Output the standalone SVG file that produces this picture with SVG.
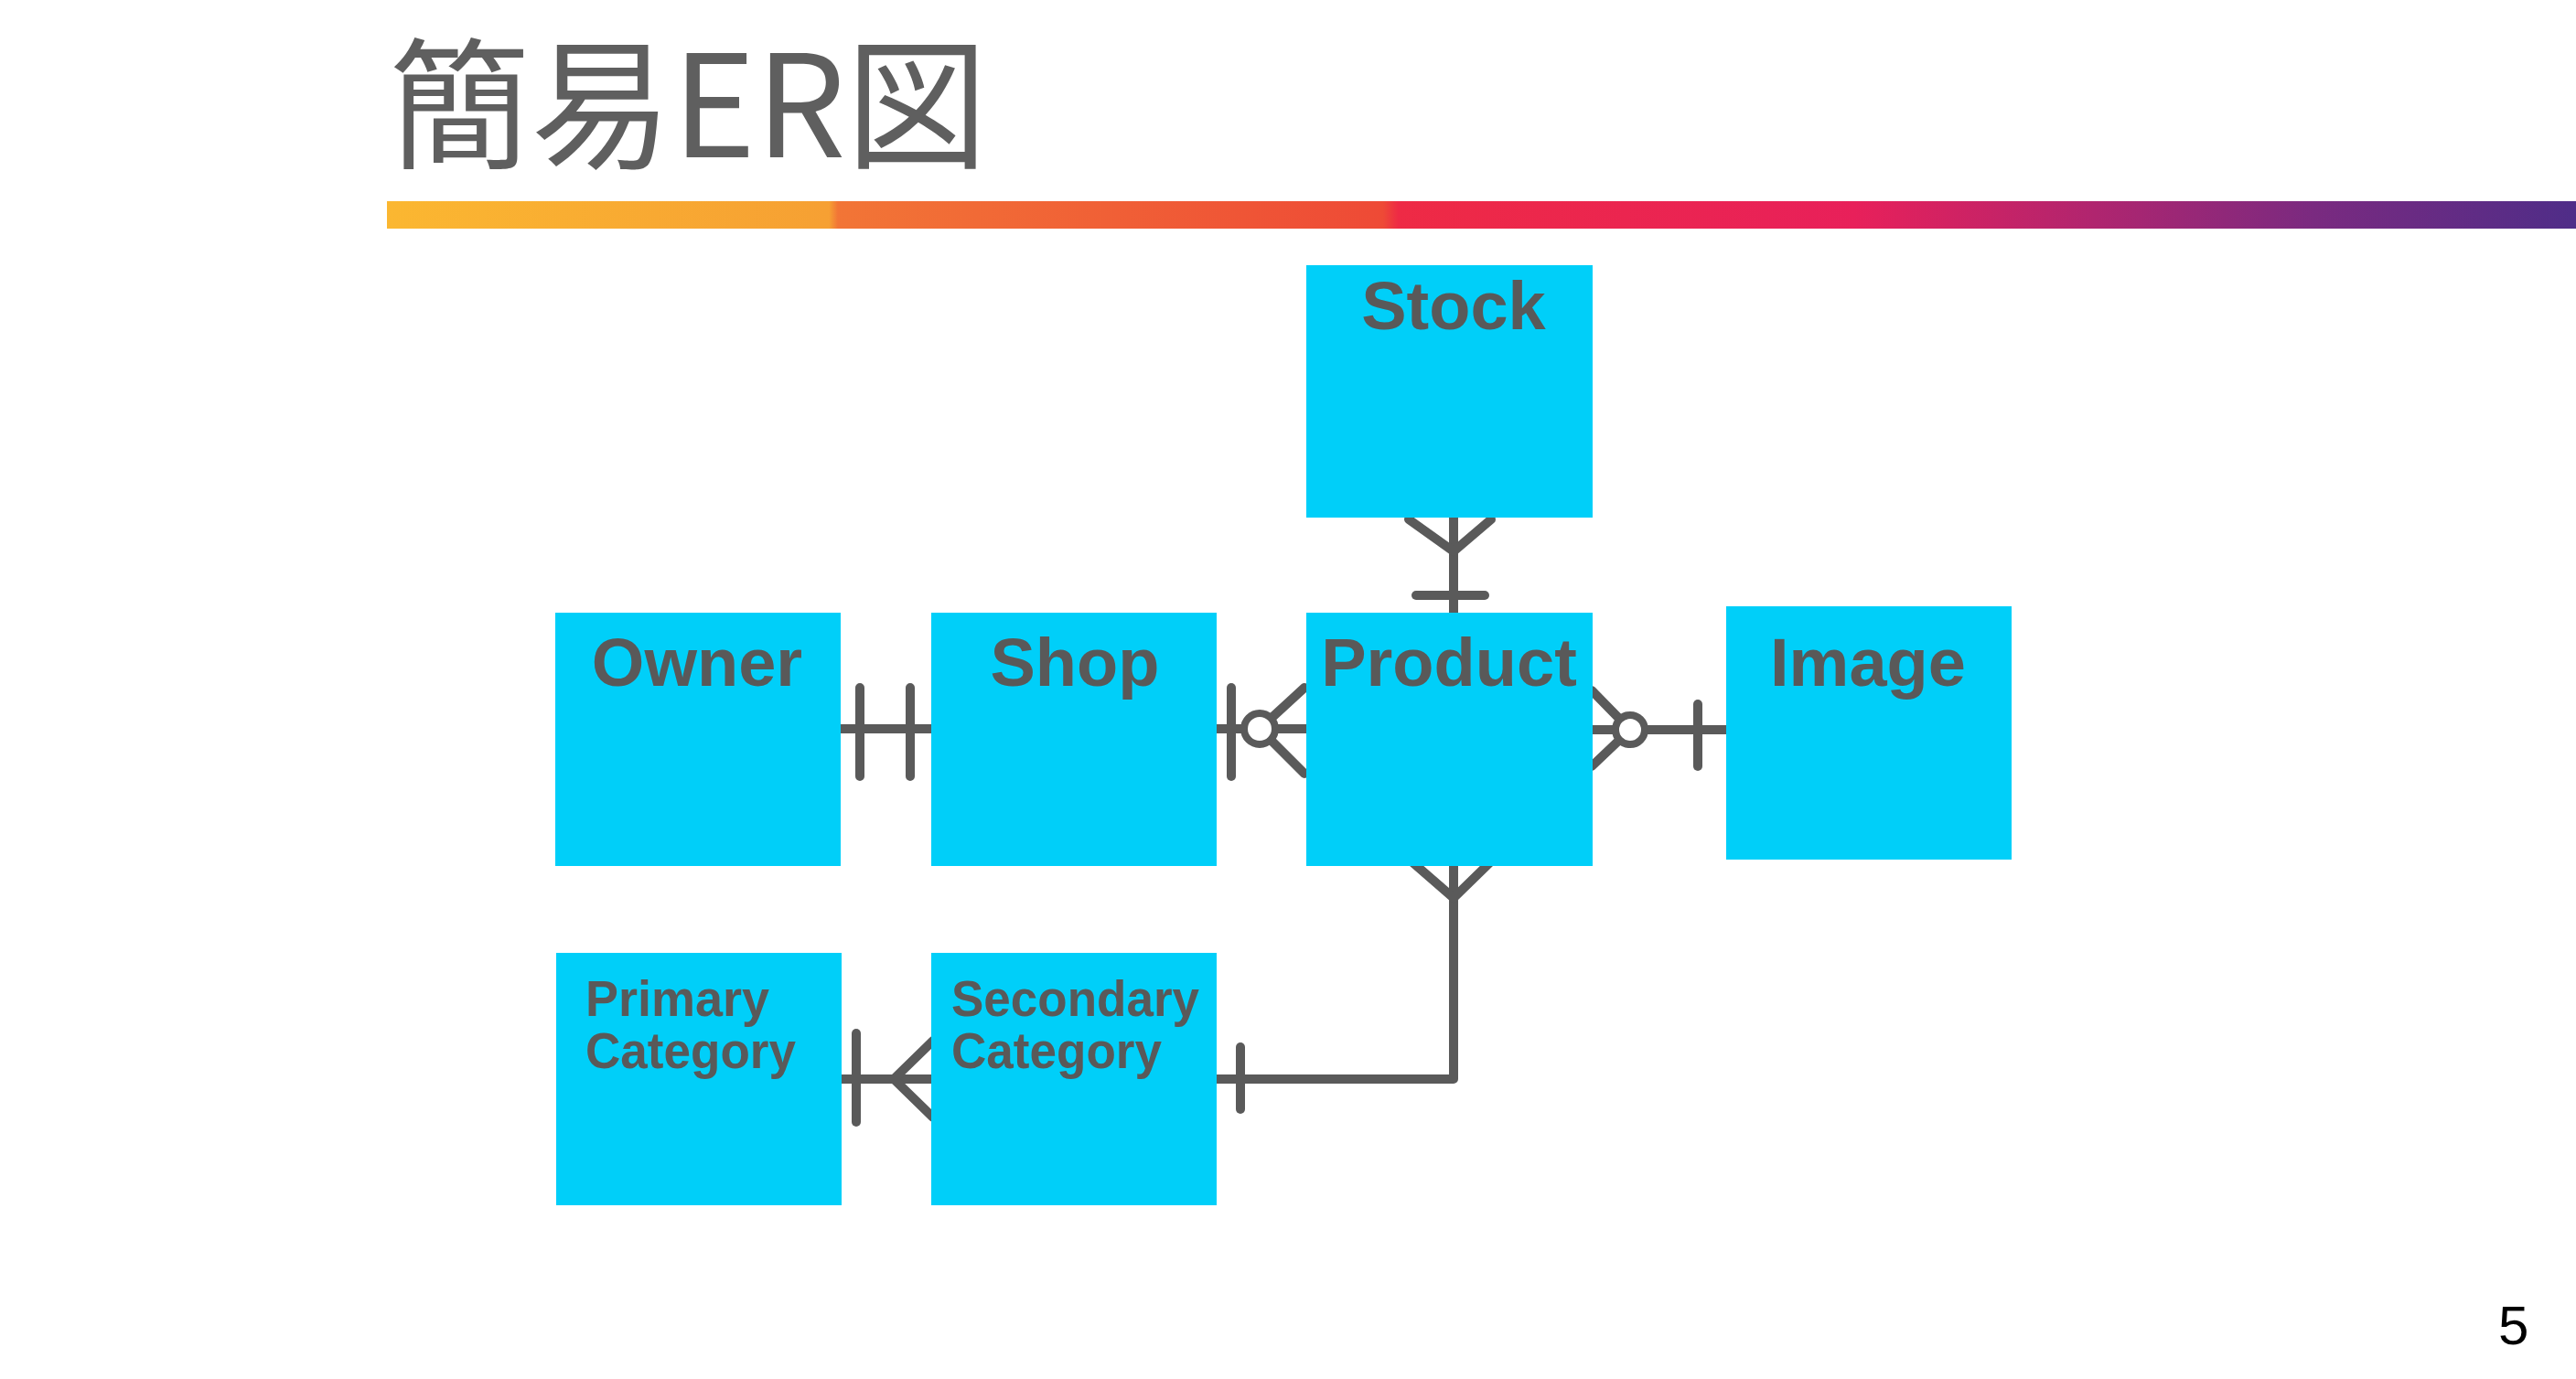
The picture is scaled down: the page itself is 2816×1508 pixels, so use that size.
<svg xmlns="http://www.w3.org/2000/svg" width="2816" height="1508" viewBox="0 0 2816 1508">
<style>
.box{fill:#00CFF9}
.lbl{font-family:"Liberation Sans",Arial,sans-serif;font-weight:bold;font-size:74px;fill:#595959;text-anchor:middle}
.lbl2{font-family:"Liberation Sans",Arial,sans-serif;font-weight:bold;font-size:56px;fill:#595959}
.c{fill:none;stroke:#5a5a5a;stroke-width:10;stroke-linecap:round;stroke-linejoin:round}
.o{fill:#ffffff;stroke:#5a5a5a;stroke-width:8}
</style>
<defs>
<linearGradient id="bar" gradientUnits="userSpaceOnUse" x1="423" y1="0" x2="2816" y2="0">
<stop offset="0" stop-color="#FBB731"/>
<stop offset="0.202" stop-color="#F6A033"/>
<stop offset="0.206" stop-color="#F27536"/>
<stop offset="0.455" stop-color="#EE4A36"/>
<stop offset="0.462" stop-color="#EE2A45"/>
<stop offset="0.67" stop-color="#E8205A"/>
<stop offset="0.78" stop-color="#B0256F"/>
<stop offset="0.88" stop-color="#7A2A80"/>
<stop offset="1" stop-color="#4F2D88"/>
</linearGradient>
</defs>
<rect width="2816" height="1508" fill="#ffffff"/>
<g id="title">
<text x="425" y="172" font-family="'Noto Sans CJK JP','Noto Sans',sans-serif" font-size="155" fill="#5f5f5f">簡易ER図</text>
<rect x="423" y="220" width="2393" height="30" fill="url(#bar)"/>
</g>
<g id="connectors">
<path class="c" d="M1589 566 V670"/>
<path class="c" d="M1540 568 L1589 603 L1630 568"/>
<path class="c" d="M1548 651 H1623"/>
<path class="c" d="M911 797 H1022"/>
<path class="c" d="M940 752 V849 M995 752 V849"/>
<path class="c" d="M1328 797 H1434"/>
<path class="c" d="M1346 752 V849"/>
<path class="c" d="M1426 752 L1377 797 L1426 846"/>
<circle class="o" cx="1377" cy="797" r="17"/>
<path class="c" d="M1733 798 H1887"/>
<path class="c" d="M1740 755 L1782 798 L1740 838"/>
<circle class="o" cx="1782" cy="798" r="16"/>
<path class="c" d="M1856 770 V838"/>
<path class="c" d="M1589 942 V1180 H1328"/>
<path class="c" d="M1543 942 L1589 982 L1630 942"/>
<path class="c" d="M1356 1145 V1213"/>
<path class="c" d="M910 1180 H1022"/>
<path class="c" d="M936 1130 V1227"/>
<path class="c" d="M1020 1138 L977 1180 L1020 1222"/>
</g>
<g id="stock">
<rect class="box" x="1428" y="290" width="313" height="276"/>
<text class="lbl" x="1589" y="360">Stock</text>
</g>
<g id="owner">
<rect class="box" x="607" y="670" width="312" height="277"/>
<text class="lbl" x="762" y="750">Owner</text>
</g>
<g id="shop">
<rect class="box" x="1018" y="670" width="312" height="277"/>
<text class="lbl" x="1175" y="750">Shop</text>
</g>
<g id="product">
<rect class="box" x="1428" y="670" width="313" height="277"/>
<text class="lbl" x="1584" y="750">Product</text>
</g>
<g id="image">
<rect class="box" x="1887" y="663" width="312" height="277"/>
<text class="lbl" x="2042" y="750">Image</text>
</g>
<g id="primary-category">
<rect class="box" x="608" y="1042" width="312" height="276"/>
<text class="lbl2" x="640" y="1111" textLength="201" lengthAdjust="spacingAndGlyphs">Primary</text>
<text class="lbl2" x="640" y="1168" textLength="230" lengthAdjust="spacingAndGlyphs">Category</text>
</g>
<g id="secondary-category">
<rect class="box" x="1018" y="1042" width="312" height="276"/>
<text class="lbl2" x="1040" y="1111" textLength="271" lengthAdjust="spacingAndGlyphs">Secondary</text>
<text class="lbl2" x="1040" y="1168" textLength="230" lengthAdjust="spacingAndGlyphs">Category</text>
</g>
<text x="2731" y="1470" font-family="'Liberation Sans',Arial,sans-serif" font-size="60" fill="#000000">5</text>
</svg>
